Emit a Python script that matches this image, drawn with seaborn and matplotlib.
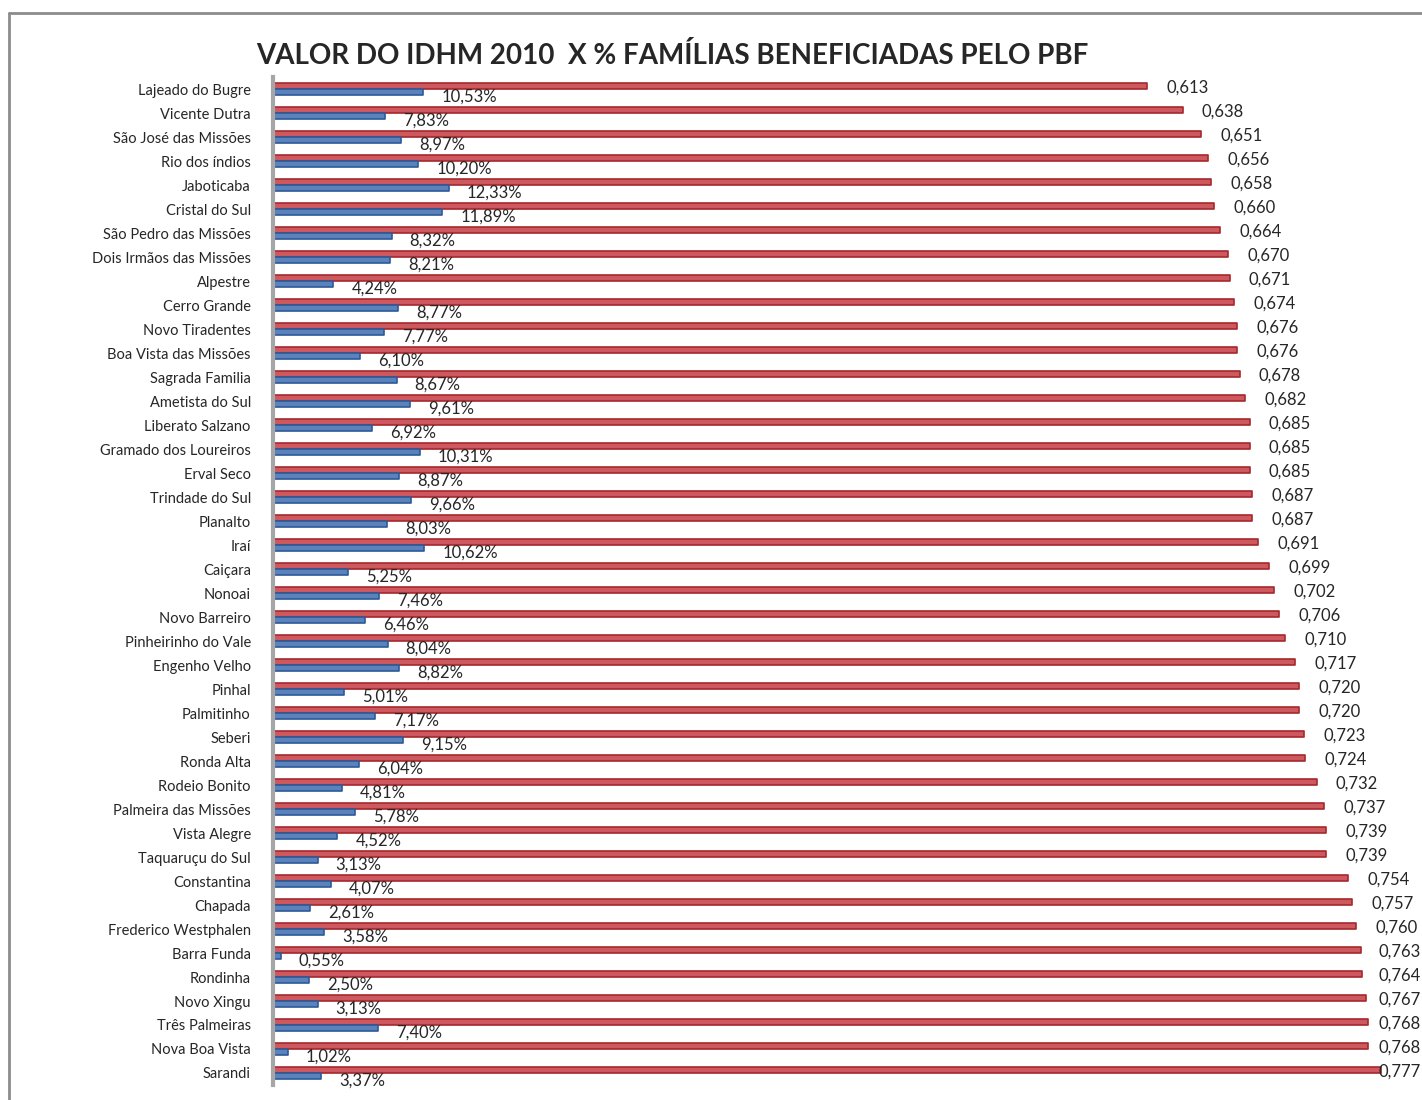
import pandas as pd
import numpy as np
import matplotlib.pyplot as plt
import seaborn as sns
from matplotlib.lines import Line2D

municipios = ['Lajeado do Bugre', 'Vicente Dutra', 'São José das Missões', 'Rio dos índios',
              'Jaboticaba', 'Cristal do Sul', 'São Pedro das Missões', 'Dois Irmãos das Missões',
              'Alpestre', 'Cerro Grande', 'Novo Tiradentes', 'Boa Vista das Missões',
              'Sagrada Familia', 'Ametista do Sul', 'Liberato Salzano', 'Gramado dos Loureiros',
              'Erval Seco', 'Trindade do Sul', 'Planalto', 'Iraí', 'Caiçara', 'Nonoai',
              'Novo Barreiro', 'Pinheirinho do Vale', 'Engenho Velho', 'Pinhal', 'Palmitinho',
              'Seberi', 'Ronda Alta', 'Rodeio Bonito', 'Palmeira das Missões', 'Vista Alegre',
              'Taquaruçu do Sul', 'Constantina', 'Chapada', 'Frederico Westphalen', 'Barra Funda',
              'Rondinha', 'Novo Xingu', 'Três Palmeiras', 'Nova Boa Vista', 'Sarandi']

idhm = [0.613, 0.638, 0.651, 0.656, 0.658, 0.660, 0.664, 0.670, 0.671, 0.674, 0.676, 0.676,
        0.678, 0.682, 0.685, 0.685, 0.685, 0.687, 0.687, 0.691, 0.699, 0.702, 0.706, 0.710,
        0.717, 0.720, 0.720, 0.723, 0.724, 0.732, 0.737, 0.739, 0.739, 0.754, 0.757, 0.760,
        0.763, 0.764, 0.767, 0.768, 0.768, 0.777]

pct_pbf = [10.53, 7.83, 8.97, 10.20, 12.33, 11.89, 8.32, 8.21, 4.24, 8.77, 7.77, 6.10,
           8.67, 9.61, 6.92, 10.31, 8.87, 9.66, 8.03, 10.62, 5.25, 7.46, 6.46, 8.04,
           8.82, 5.01, 7.17, 9.15, 6.04, 4.81, 5.78, 4.52, 3.13, 4.07, 2.61, 3.58,
           0.55, 2.50, 3.13, 7.40, 1.02, 3.37]

df = pd.concat([
    pd.DataFrame({'municipio': municipios, 'valor': idhm, 'serie': 'IDHM'}),
    pd.DataFrame({'municipio': municipios, 'valor': np.array(pct_pbf) / 100, 'serie': 'PBF'}),
])

sns.set_style('white')
plt.rcParams['font.family'] = ['Lato', 'DejaVu Sans']

W, H = 1422, 1100
fig = plt.figure(figsize=(W / 100, H / 100), dpi=100)
ax = fig.add_axes([273 / W, 1 - 1085 / H, 1 - 273 / W, (1085 - 77) / H])

cores = {'IDHM': '#E0454B', 'PBF': '#4A7FCB'}
bordas = {'IDHM': '#A5292E', 'PBF': '#2C5A98'}
sns.barplot(data=df, y='municipio', x='valor', hue='serie', orient='h',
            palette=cores, width=0.5, ax=ax, legend=False)

for cont, serie in zip(ax.containers, ['IDHM', 'PBF']):
    for p in cont:
        p.set_edgecolor(bordas[serie])
        p.set_linewidth(1.2)
        p.set_joinstyle('round')

# rótulos de dados
rot_idhm = []
for p, v in zip(ax.containers[0], idhm):
    y = p.get_y() + p.get_height() / 2
    t = ax.annotate(f'{v:.3f}'.replace('.', ','), xy=(p.get_width(), y), xytext=(14, -1.5),
                    textcoords='offset points', va='center', ha='left', fontsize=12,
                    annotation_clip=False)
    rot_idhm.append(t)
for p, v in zip(ax.containers[1], pct_pbf):
    y = p.get_y() + p.get_height() / 2
    ax.annotate(f'{v:.2f}%'.replace('.', ','), xy=(p.get_width(), y), xytext=(13, -3),
                textcoords='offset points', va='center', ha='left', fontsize=12,
                annotation_clip=False)

ax.set_xlim(0, 0.806)
ax.set_xlabel('')
ax.set_ylabel('')
ax.set_xticks([])
ax.tick_params(axis='y', length=0, pad=16, labelsize=10.5)
for s in ['top', 'right', 'bottom']:
    ax.spines[s].set_visible(False)
ax.spines['left'].set_color('#A6A6A6')
ax.spines['left'].set_linewidth(3)

fig.text(672 / W, 1 - 55 / H, 'VALOR DO IDHM 2010  X % FAMÍLIAS BENEFICIADAS PELO PBF',
         ha='center', va='center', fontsize=20, fontweight='bold')

# moldura do gráfico
fig.add_artist(Line2D([9 / W, 1], [1 - 13 / H] * 2, transform=fig.transFigure,
                      color='#8C8C8C', lw=2))
fig.add_artist(Line2D([9 / W] * 2, [0, 1 - 13 / H], transform=fig.transFigure,
                      color='#8C8C8C', lw=2))

# rótulos que sairiam da figura são puxados para dentro
fig.canvas.draw()
r = fig.canvas.get_renderer()
for t in rot_idhm:
    bb = t.get_window_extent(r)
    excesso = bb.x1 - (W - 1)
    if excesso > 0:
        dx, dy = t.xyann
        t.xyann = (dx - excesso * 72 / 100, dy)

fig.savefig('out.png', dpi=100)
